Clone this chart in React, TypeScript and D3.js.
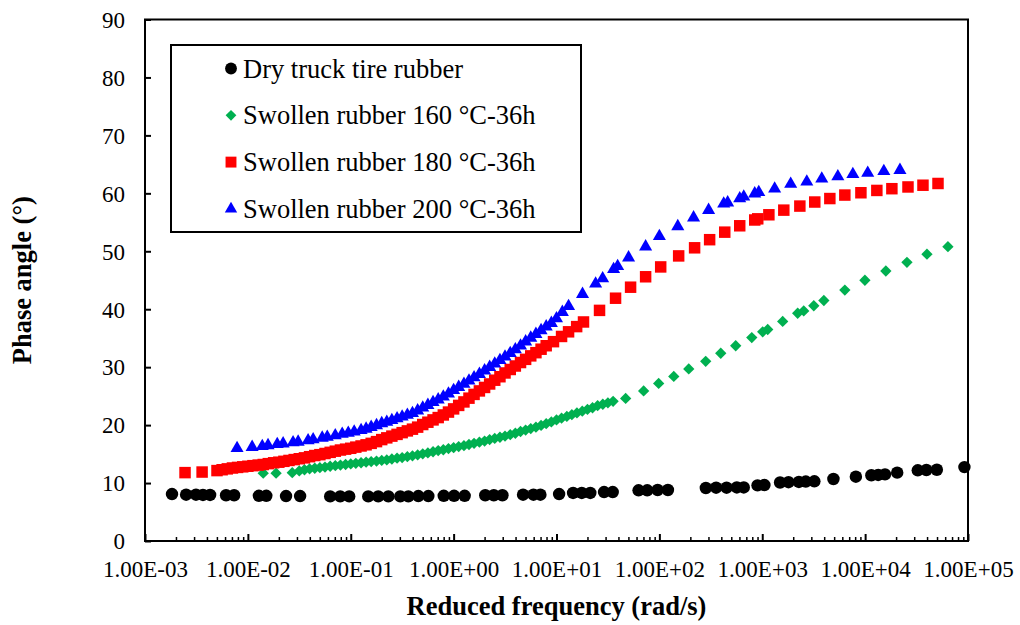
import React, { useRef, useEffect } from 'react';
import * as d3 from 'd3';

type Pt = [number, number];

// [reduced frequency (rad/s), phase angle (deg)]
const dryRubber: Pt[] = [
  [1.83e-3, 8.1], [2.51e-3, 8.0], [3.13e-3, 8.0], [3.66e-3, 7.95], [4.29e-3, 7.95],
  [6.14e-3, 7.9], [7.35e-3, 7.9], [1.28e-2, 7.8], [1.51e-2, 7.8], [2.35e-2, 7.75],
  [3.22e-2, 7.75], [6.31e-2, 7.7], [7.9e-2, 7.7], [9.66e-2, 7.7], [0.148, 7.7],
  [0.185, 7.7], [0.232, 7.7], [0.303, 7.7], [0.363, 7.7], [0.454, 7.75],
  [0.568, 7.75], [0.802, 7.8], [1.01, 7.8], [1.28, 7.8], [2.03, 7.9],
  [2.46, 7.9], [2.98, 7.9], [4.73, 8.0], [5.97, 8.0], [6.97, 8.0],
  [10.6, 8.1], [14.5, 8.3], [17.6, 8.3], [21.3, 8.3], [29.0, 8.45],
  [35.2, 8.45], [62.8, 8.75], [76.2, 8.75], [96.2, 8.8], [121, 8.8],
  [283, 9.15], [356, 9.2], [450, 9.2], [566, 9.25], [661, 9.25],
  [900, 9.6], [1050, 9.65], [1490, 10.1], [1800, 10.15], [2270, 10.2],
  [2650, 10.25], [3210, 10.3], [4920, 10.7], [8130, 11.1], [11500, 11.35],
  [13400, 11.4], [15600, 11.5], [20500, 11.8], [32500, 12.2], [39400, 12.25],
  [49800, 12.3], [92300, 12.75],
];

const swollen160: Pt[] = [
  [1.41e-2, 11.7], [1.88e-2, 11.7], [2.7e-2, 11.8],
  [3.16e-2, 12.1], [3.55e-2, 12.3], [3.98e-2, 12.45], [4.47e-2, 12.55], [5.01e-2, 12.65],
  [5.62e-2, 12.75], [6.31e-2, 12.9], [7.08e-2, 13.0], [7.94e-2, 13.1], [8.91e-2, 13.2],
  [0.1, 13.3], [0.112, 13.4], [0.126, 13.5], [0.141, 13.6], [0.158, 13.7],
  [0.178, 13.8], [0.2, 13.9], [0.224, 14.0], [0.251, 14.15], [0.282, 14.3],
  [0.316, 14.4], [0.355, 14.55], [0.398, 14.7], [0.447, 14.85], [0.501, 15.05],
  [0.562, 15.2], [0.631, 15.4], [0.708, 15.6], [0.794, 15.75], [0.891, 15.95],
  [1.0, 16.1], [1.12, 16.3], [1.26, 16.45], [1.41, 16.65], [1.58, 16.85],
  [1.78, 17.05], [2.0, 17.25], [2.24, 17.5], [2.51, 17.7], [2.82, 17.9],
  [3.16, 18.1], [3.55, 18.35], [3.98, 18.6], [4.47, 18.9], [5.01, 19.15],
  [5.62, 19.4], [6.31, 19.65], [7.08, 19.95], [7.94, 20.25], [8.91, 20.55],
  [10.0, 20.9], [11.2, 21.2], [12.6, 21.5], [14.1, 21.8], [15.8, 22.1],
  [17.8, 22.4], [20.0, 22.7], [22.4, 23.0], [25.1, 23.35], [28.2, 23.6],
  [31.6, 23.85], [35.5, 24.1],
  [47.0, 24.6], [70.3, 25.9], [98.4, 27.2], [138, 28.4], [193, 29.7],
  [282, 31.0], [395, 32.4], [552, 33.7], [791, 35.1], [1010, 36.1],
  [1130, 36.5], [1580, 37.9], [2210, 39.3], [2530, 39.7], [3170, 40.6],
  [3970, 41.5], [6350, 43.3], [9950, 45.0], [15900, 46.6], [25500, 48.1],
  [39900, 49.5], [63800, 50.8],
];

const swollen180: Pt[] = [
  [2.45e-3, 11.8], [3.59e-3, 11.9],
  [5.01e-3, 12.15], [5.62e-3, 12.3], [6.31e-3, 12.45], [7.08e-3, 12.6], [7.94e-3, 12.7],
  [8.91e-3, 12.8], [1.0e-2, 12.9], [1.12e-2, 13.0], [1.26e-2, 13.1], [1.41e-2, 13.2],
  [1.58e-2, 13.35], [1.78e-2, 13.5], [2.0e-2, 13.6], [2.24e-2, 13.75], [2.51e-2, 13.9],
  [2.82e-2, 14.05], [3.16e-2, 14.2], [3.55e-2, 14.35], [3.98e-2, 14.55], [4.47e-2, 14.75],
  [5.01e-2, 14.9], [5.62e-2, 15.1], [6.31e-2, 15.3], [7.08e-2, 15.5], [7.94e-2, 15.7],
  [8.91e-2, 15.85], [0.1, 16.0], [0.112, 16.2], [0.126, 16.4], [0.141, 16.6],
  [0.158, 16.85], [0.178, 17.15], [0.2, 17.5], [0.224, 17.8], [0.251, 18.1],
  [0.282, 18.4], [0.316, 18.7], [0.355, 19.0], [0.398, 19.3], [0.447, 19.65],
  [0.501, 20.1], [0.562, 20.5], [0.631, 20.9], [0.708, 21.3], [0.794, 21.75],
  [0.891, 22.25], [1.0, 22.8], [1.12, 23.4], [1.26, 24.0], [1.41, 24.65],
  [1.58, 25.3], [1.78, 25.9], [2.0, 26.5], [2.24, 27.1], [2.51, 27.75],
  [2.82, 28.35], [3.16, 29.0], [3.55, 29.6], [3.98, 30.2], [4.47, 30.8],
  [5.01, 31.35], [5.62, 31.95], [6.31, 32.5], [7.08, 33.1], [7.94, 33.7],
  [9.35, 34.4], [11.2, 35.3], [13.1, 36.1], [15.7, 37.0], [18.3, 37.8],
  [26.2, 39.8], [37.5, 41.9], [52.5, 43.8], [73.5, 45.6], [103, 47.3],
  [154, 49.2], [220, 50.6], [308, 52.0], [432, 53.3], [604, 54.4],
  [845, 55.4], [904, 55.6], [1160, 56.3], [1620, 57.1], [2320, 57.8],
  [3240, 58.5], [4540, 59.1], [6350, 59.7], [9100, 60.1], [13000, 60.5],
  [18200, 60.8], [26100, 61.1], [36500, 61.4], [51100, 61.7],
];

const swollen200: Pt[] = [
  [7.85e-3, 16.0], [1.1e-2, 16.2], [1.38e-2, 16.35], [1.57e-2, 16.5], [1.93e-2, 16.7],
  [2.2e-2, 16.8], [2.75e-2, 17.0], [3.08e-2, 17.1], [3.85e-2, 17.35], [4.31e-2, 17.5],
  [5.28e-2, 17.8], [5.91e-2, 17.95], [7.07e-2, 18.2], [8.26e-2, 18.45], [9.46e-2, 18.65],
  [0.108, 18.85],
  [0.126, 19.1], [0.141, 19.35], [0.158, 19.65], [0.178, 19.95], [0.2, 20.3],
  [0.224, 20.55], [0.251, 20.85], [0.282, 21.15], [0.316, 21.45], [0.355, 21.75],
  [0.398, 22.05], [0.447, 22.5], [0.501, 23.0], [0.562, 23.45], [0.631, 23.95],
  [0.708, 24.4], [0.794, 24.9], [0.891, 25.4], [1.0, 26.0], [1.12, 26.55],
  [1.26, 27.1], [1.41, 27.65], [1.58, 28.2], [1.78, 28.8], [2.0, 29.4],
  [2.24, 30.0], [2.51, 30.6], [2.82, 31.2], [3.16, 31.8], [3.55, 32.4],
  [3.98, 33.05], [4.47, 33.7], [5.01, 34.4], [5.62, 35.05], [6.31, 35.7],
  [7.08, 36.35], [7.94, 37.0], [8.91, 37.6], [10.0, 38.4],
  [11.4, 39.5], [13.1, 40.5], [17.9, 42.6], [24.0, 44.4], [28.1, 45.3],
  [35.9, 46.9], [39.3, 47.4], [50.2, 48.9], [73.5, 50.8], [100, 52.6],
  [151, 54.3], [215, 55.8], [301, 57.1], [422, 58.2], [461, 58.4],
  [604, 59.1], [661, 59.4], [845, 59.95], [925, 60.2], [1320, 60.8],
  [1890, 61.6], [2710, 62.0], [3790, 62.5], [5430, 62.9], [7600, 63.3],
  [10600, 63.5], [15200, 63.8], [21800, 64.0],
];

const seriesNames = [
  'Dry truck tire rubber',
  'Swollen rubber 160 °C-36h',
  'Swollen rubber 180 °C-36h',
  'Swollen rubber 200 °C-36h',
];
const seriesColors = ['#000000', '#00b050', '#ff0000', '#0000ff'];
const seriesData = [dryRubber, swollen160, swollen180, swollen200];

const xTicks = [1e-3, 1e-2, 1e-1, 1e0, 1e1, 1e2, 1e3, 1e4, 1e5];
const xTickLabels = [
  '1.00E-03', '1.00E-02', '1.00E-01', '1.00E+00', '1.00E+01',
  '1.00E+02', '1.00E+03', '1.00E+04', '1.00E+05',
];
const yTicks = [0, 10, 20, 30, 40, 50, 60, 70, 80, 90];

const FONT = '"Liberation Serif", "Times New Roman", serif';

function markerPath(i: number, legend = false): string {
  const k = legend ? 0.9 : 1;
  if (i === 0) return d3.symbol().type(d3.symbolCircle).size(122 * k)() as string;
  if (i === 1) return d3.symbol().type(d3.symbolSquare).size(64 * k)() as string;
  if (i === 2) return d3.symbol().type(d3.symbolSquare).size(132 * k)() as string;
  return d3.symbol().type(d3.symbolTriangle).size(74 * k)() as string;
}

export default function App() {
  const ref = useRef<SVGSVGElement>(null);

  useEffect(() => {
    const svg = d3.select(ref.current);
    svg.selectAll('*').remove();

    const left = 145;
    const right = 968;
    const top = 19.5;
    const bottom = 541;

    const x = d3.scaleLog().domain([1e-3, 1e5]).range([left, right]);
    const y = d3.scaleLinear().domain([0, 90]).range([bottom, top]);

    svg.append('rect')
      .attr('width', 1020)
      .attr('height', 625)
      .attr('fill', '#fff');

    // Points
    seriesData.forEach((data, i) => {
      const path = markerPath(i);
      svg.append('g')
        .selectAll('path')
        .data(data)
        .join('path')
        .attr('d', path)
        .attr('fill', seriesColors[i])
        .attr('transform', d =>
          `translate(${x(d[0])},${y(d[1])})` + (i === 1 ? ' rotate(45)' : ''));
    });

    // Plot frame
    svg.append('rect')
      .attr('x', left)
      .attr('y', top)
      .attr('width', right - left)
      .attr('height', bottom - top)
      .attr('fill', 'none')
      .attr('stroke', '#000')
      .attr('stroke-width', 2);

    // Y axis
    const yAxis = svg.append('g')
      .attr('transform', `translate(${left},0)`)
      .call(d3.axisRight(y).tickValues(yTicks).tickSize(6).tickFormat(d => String(d)));
    yAxis.select('.domain').remove();
    yAxis.selectAll('line').attr('stroke', '#000').attr('stroke-width', 2);
    yAxis.selectAll('text')
      .attr('x', -20)
      .attr('dy', '0.34em')
      .attr('text-anchor', 'end')
      .style('font-family', FONT)
      .style('font-size', '23px')
      .attr('fill', '#000');

    // X axis: major + minor ticks, pointing inside
    const minor: number[] = [];
    for (let e = -3; e < 5; e++) {
      for (let m = 2; m <= 9; m++) minor.push(m * Math.pow(10, e));
    }
    const xMinor = svg.append('g')
      .attr('transform', `translate(0,${bottom})`)
      .call(d3.axisTop(x).tickValues(minor).tickSize(4).tickFormat(() => ''));
    xMinor.select('.domain').remove();
    xMinor.selectAll('line').attr('stroke', '#000').attr('stroke-width', 1.5);

    const xAxis = svg.append('g')
      .attr('transform', `translate(0,${bottom})`)
      .call(d3.axisTop(x).tickValues(xTicks).tickSize(7)
        .tickFormat((_d, i) => xTickLabels[i]));
    xAxis.select('.domain').remove();
    xAxis.selectAll('line').attr('stroke', '#000').attr('stroke-width', 2);
    xAxis.selectAll('text')
      .attr('y', 36)
      .attr('dy', 0)
      .attr('text-anchor', 'middle')
      .style('font-family', FONT)
      .style('font-size', '23px')
      .attr('fill', '#000');

    // Axis titles
    svg.append('text')
      .attr('x', (left + right) / 2)
      .attr('y', 615)
      .attr('text-anchor', 'middle')
      .style('font-family', FONT)
      .style('font-size', '26.5px')
      .style('font-weight', 'bold')
      .text('Reduced frequency (rad/s)');

    svg.append('text')
      .attr('transform', `translate(31,${(top + bottom) / 2}) rotate(-90)`)
      .attr('text-anchor', 'middle')
      .style('font-family', FONT)
      .style('font-size', '26.5px')
      .style('font-weight', 'bold')
      .text('Phase angle (°)');

    // Legend
    const legend = svg.append('g');
    legend.append('rect')
      .attr('x', 171)
      .attr('y', 45)
      .attr('width', 410)
      .attr('height', 187)
      .attr('fill', '#fff')
      .attr('stroke', '#000')
      .attr('stroke-width', 2);

    seriesNames.forEach((name, i) => {
      const cy = 68.5 + i * 46.8;
      legend.append('path')
        .attr('d', markerPath(i, true))
        .attr('fill', seriesColors[i])
        .attr('transform', `translate(231,${cy})` + (i === 1 ? ' rotate(45)' : ''));
      legend.append('text')
        .attr('x', 243)
        .attr('y', cy + 9)
        .style('font-family', FONT)
        .style('font-size', '26.5px')
        .attr('fill', '#000')
        .text(name);
    });
  }, []);

  return (
    <svg
      ref={ref}
      width={1020}
      height={625}
      style={{ position: 'absolute', left: 0, top: 0 }}
    />
  );
}
